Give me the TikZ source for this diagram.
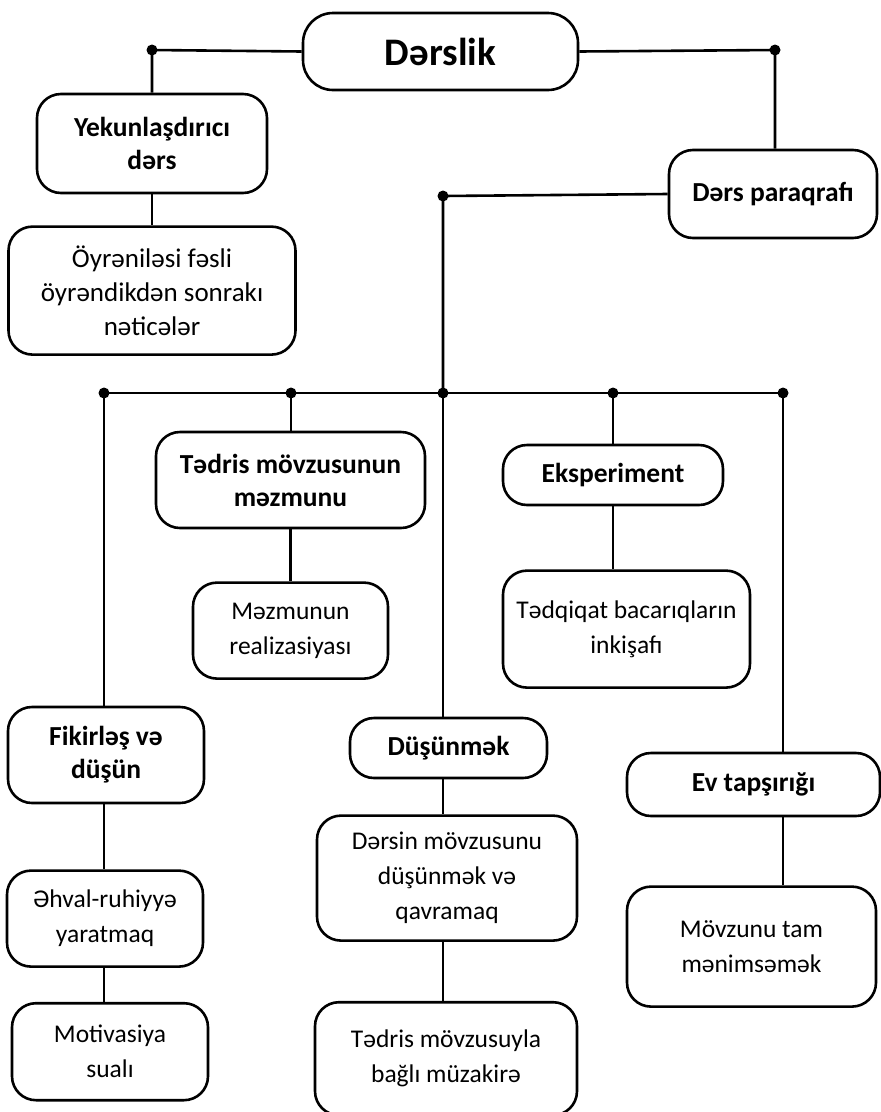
\documentclass[tikz,border=0pt]{standalone}
\usepackage{fontspec}
\setmainfont{Carlito}
\usetikzlibrary{positioning}

\begin{document}
\begin{tikzpicture}[
    x=1pt, y=-1pt,
    node distance=40pt,
    box/.style={
        rectangle,
        rounded corners=24pt,
        draw=black,
        line width=2.6pt,
        align=center,
        inner sep=3pt,
        fill=white,
        font=\fontsize{25.5}{35}\selectfont
    },
    headbox/.style={
        box,
        font=\fontsize{27.5}{33}\selectfont\bfseries
    },
    link/.style={line width=2.6pt},
    junction/.style={circle, fill=black, inner sep=0pt, minimum size=11pt}
]
\useasboundingbox (0,0) rectangle (881,1112);

% Top level
\node[headbox, minimum width=275pt, minimum height=77pt, rounded corners=30pt,
      font=\fontsize{39}{46}\selectfont\bfseries] (top) at (440.5,51.5) {Dərslik};

% Left branch
\node[headbox, minimum width=230pt, minimum height=99pt] (final) at (152,143.5) {Yekunlaşdırıcı\\dərs};
\node[box, minimum width=287pt, minimum height=128pt, below=31pt of final,
      font=\fontsize{27}{34}\selectfont] (results) {Öyrəniləsi fəsli\\öyrəndikdən sonrakı\\nəticələr};

% Right branch
\node[headbox, minimum width=208pt, minimum height=88pt] (para) at (773,194) {Dərs paraqrafı};

% Junction dots
\node[junction] (jleft) at (152,50) {};
\node[junction] (jright) at (775,50) {};
\node[junction] (jpara) at (443,196) {};
\node[junction] (bus1) at (104,393) {};
\node[junction] (bus2) at (291,393) {};
\node[junction] (bus3) at (443,393) {};
\node[junction] (bus4) at (613,393) {};
\node[junction] (bus5) at (783,393) {};

% Paragraph parts
\node[headbox, minimum width=269pt, minimum height=96pt] (content) at (290.5,480) {Tədris mövzusunun\\məzmunu};
\node[box, minimum width=195pt, minimum height=96pt, below=52pt of content] (realize) {Məzmunun\\realizasiyası};

\node[headbox, minimum width=220pt, minimum height=60pt] (exper) at (613,475) {Eksperiment};
\node[box, minimum width=247pt, minimum height=117pt, below=63pt of exper, xshift=13.5pt] (research) {Tədqiqat bacarıqların\\inkişafı};

\node[headbox, minimum width=196pt, minimum height=96pt] (reflect) at (106,755) {Fikirləş və\\düşün};
\node[box, minimum width=196pt, minimum height=96pt, below=65pt of reflect, xshift=-1pt] (mood) {Əhval-ruhiyyə\\yaratmaq};
\node[box, minimum width=196pt, minimum height=97pt, below=34pt of mood, xshift=5pt] (motive) {Motivasiya\\sualı};

\node[headbox, minimum width=197pt, minimum height=60pt] (think) at (448.5,748) {Düşünmək};
\node[box, minimum width=260pt, minimum height=125pt, below=35pt of think, xshift=-1.5pt] (grasp) {Dərsin mövzusunu\\düşünmək və\\qavramaq};
\node[box, minimum width=262pt, minimum height=113pt, below=59pt of grasp, xshift=-1pt] (discuss) {Tədris mövzusuyla\\bağlı müzakirə};

\node[headbox, minimum width=253pt, minimum height=63pt] (home) at (753.5,784.5) {Ev tapşırığı};
\node[box, minimum width=249pt, minimum height=120pt, below=68pt of home, xshift=-2pt] (master) {Mövzunu tam\\mənimsəmək};

% Connectors
\draw[link] (top.west) -- (jleft.center) -- (jleft.center |- final.north);
\draw[link] (top.east) -- (jright.center) -- (jright.center |- para.north);
\draw[link] (final) -- (results);
\draw[link] (para.west) -- (jpara.center) -- (bus3.center);
\draw[link] (bus1.center) -- (bus5.center);

\draw[link] (bus1.center) -- (bus1.center |- reflect.north);
\draw[link] (bus2.center) -- (bus2.center |- content.north);
\draw[link] (bus3.center) -- (bus3.center |- think.north);
\draw[link] (bus4.center) -- (bus4.center |- exper.north);
\draw[link] (bus5.center) -- (bus5.center |- home.north);

\draw[link] (content) -- (realize);
\draw[link] (exper.south) -- (exper.south |- research.north);
\draw[link] (reflect.south -| bus1) -- (bus1 |- mood.north);
\draw[link] (mood.south -| bus1) -- (bus1 |- motive.north);
\draw[link] (think.south -| bus3) -- (bus3 |- grasp.north);
\draw[link] (grasp.south -| bus3) -- (bus3 |- discuss.north);
\draw[link] (home.south -| bus5) -- (bus5 |- master.north);

\end{tikzpicture}
\end{document}
